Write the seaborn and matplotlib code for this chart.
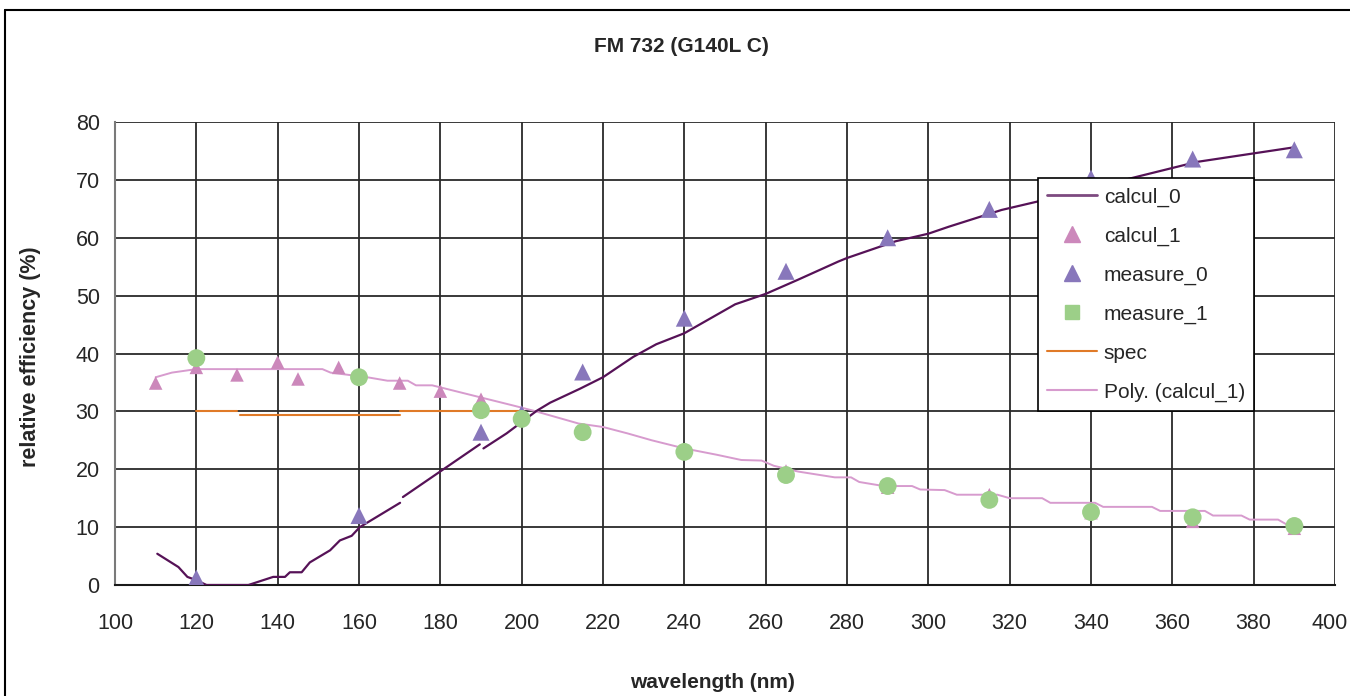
import numpy as np
import pandas as pd
import matplotlib
matplotlib.use("Agg")
import matplotlib.pyplot as plt
import matplotlib.transforms as mtransforms
import seaborn as sns
from matplotlib.lines import Line2D

# ---------------- data ----------------
title = "FM 732 (G140L C)"
x_label = "wavelength (nm)"
y_label = "relative efficiency (%)"
x_ticks = list(range(100, 401, 20))
y_ticks = list(range(0, 81, 10))

# calcul_0 : computed curve (drawn in three pieces as in the original)
calcul0_seg = [0] * 16 + [1] * 2 + [2] * 22
calcul0_x = [110.4, 115.6, 117.8, 120.1, 122.5, 132.8, 138.9, 141.8, 143.0, 145.9, 147.9, 152.9,
             155.3, 158.2, 160.2, 170.1,
             170.8, 189.7,
             190.6, 196.3, 203.7, 207.0, 214.3, 220.0, 227.4, 233.1, 240.0, 252.5, 260.0, 267.8,
             277.9, 280.0, 292.0, 300.0, 305.0, 318.0, 326.5, 352.8, 366.0, 389.7]
calcul0_y = [5.4, 3.1, 1.4, 0.8, 0.0, 0.0, 1.4, 1.4, 2.2, 2.2, 3.9, 6.0,
             7.7, 8.5, 10.0, 14.2,
             15.2, 24.3,
             23.6, 26.2, 30.1, 31.5, 33.9, 35.9, 39.4, 41.6, 43.5, 48.5, 50.3, 52.7,
             55.9, 56.5, 59.4, 60.7, 61.9, 64.8, 66.2, 70.8, 73.1, 75.6]

# calcul_1 : computed points
calcul1_x = [110, 120, 130, 140, 145, 155, 160, 170, 180, 190, 200, 215, 240, 265, 290, 315, 340, 365, 390]
calcul1_y = [34.9, 37.6, 36.3, 38.5, 35.6, 37.6, 36.1, 34.9, 33.5, 32.1, 29.8, 26.6, 23.1, 19.7, 16.9,
             15.6, 12.5, 11.0, 9.8]

# measure_0 / measure_1
measure_x = [120, 160, 190, 200, 215, 240, 265, 290, 315, 340, 365, 390]
measure0_y = [1.2, 12.0, 26.4, 29.6, 36.8, 46.1, 54.2, 60.0, 64.9, 70.3, 73.6, 75.2]
measure1_y = [39.2, 35.9, 30.2, 28.7, 26.4, 23.0, 19.0, 17.1, 14.7, 12.6, 11.7, 10.2]

# spec (three pieces)
spec_seg = [0, 0, 1, 1, 2, 2]
spec_x = [120, 130, 130.7, 170.2, 170.2, 199.5]
spec_y = [30.0, 30.0, 29.3, 29.3, 30.0, 30.0]

# Poly. (calcul_1) trendline as rendered
poly_x = [110, 114, 120, 151, 153, 162, 167, 172, 174, 178, 182, 186, 194, 198, 203, 206, 214, 220,
          226, 232, 240, 248, 254, 259, 262, 268, 277, 281, 283, 289, 296, 298, 304, 307, 317, 320,
          328, 330, 341, 343, 355, 357, 368, 370, 377, 379, 386, 388, 392]
poly_y = [35.9, 36.7, 37.3, 37.3, 36.7, 35.9, 35.3, 35.3, 34.5, 34.5, 33.8, 33.1, 31.7, 31.0, 30.1,
          29.5, 27.9, 27.3, 26.2, 25.0, 23.6, 22.5, 21.6, 21.5, 20.6, 19.6, 18.6, 18.6, 17.8, 17.1,
          17.1, 16.5, 16.4, 15.6, 15.6, 15.0, 15.0, 14.2, 14.2, 13.5, 13.5, 12.8, 12.8, 12.0, 12.0,
          11.3, 11.3, 10.5, 10.3]

series_labels = ["calcul_0", "calcul_1", "measure_0", "measure_1", "spec", "Poly. (calcul_1)"]

# ---------------- style ----------------
sns.set_style("white")
plt.rcParams["font.family"] = ["Liberation Sans", "DejaVu Sans"]

c_calc0 = "#561257"
c_calc1 = "#CC88BB"
c_meas0 = "#8877BB"
c_meas1 = "#9CCF88"
c_spec = "#E07A28"
c_poly = "#D79BCE"

fig = plt.figure(figsize=(13.5, 6.96), dpi=100)
ax = fig.add_axes([115 / 1350, 1 - 585 / 696, 1220 / 1350, 463 / 696])

df0 = pd.DataFrame({"x": calcul0_x, "y": calcul0_y, "seg": calcul0_seg})
dfs = pd.DataFrame({"x": spec_x, "y": spec_y, "seg": spec_seg})
dfp = pd.DataFrame({"x": poly_x, "y": poly_y})

sns.lineplot(data=dfp, x="x", y="y", color=c_poly, lw=1.4, sort=False, estimator=None, ax=ax,
             legend=False, zorder=3)
sns.lineplot(data=dfs, x="x", y="y", units="seg", color=c_spec, lw=1.5, sort=False, estimator=None,
             ax=ax, legend=False, zorder=3)
sns.lineplot(data=df0, x="x", y="y", units="seg", color=c_calc0, lw=1.6, sort=False, estimator=None,
             ax=ax, legend=False, zorder=4)

sns.scatterplot(x=calcul1_x, y=calcul1_y, marker="^", s=95, color=c_calc1, edgecolor="none",
                ax=ax, legend=False, zorder=5)
sns.scatterplot(x=measure_x, y=measure0_y, marker="^", s=150, color=c_meas0, edgecolor="none",
                ax=ax, legend=False, zorder=6)
sns.scatterplot(x=measure_x, y=measure1_y, marker="o", s=165, color=c_meas1, edgecolor="none",
                ax=ax, legend=False, zorder=7)

ax.set_xlim(100, 400)
ax.set_ylim(0, 80)
ax.set_xticks(x_ticks)
ax.set_yticks(y_ticks)
ax.set_xticklabels([str(t) for t in x_ticks], fontsize=15.5)
ax.set_yticklabels([str(t) for t in y_ticks], fontsize=15.5)
ax.set_xlabel("")
ax.set_ylabel("")
ax.grid(True, color="#2a2a2a", lw=1.3)
ax.set_axisbelow(True)
for side in ["top", "right"]:
    ax.spines[side].set_visible(False)
ax.spines["left"].set_color("#7a7a7a")
ax.spines["left"].set_linewidth(1.5)
ax.spines["bottom"].set_color("#1a1a1a")
ax.spines["bottom"].set_linewidth(1.5)
ax.tick_params(axis="both", direction="out", length=6, width=1.2, color="#333333")
ax.tick_params(axis="x", pad=14)
ax.tick_params(axis="y", pad=5)

# keep the last x tick label ("400") inside the image edge
last_lbl = ax.get_xticklabels()[-1]
last_lbl.set_transform(last_lbl.get_transform() +
                       mtransforms.ScaledTranslation(-5 / 100, 0, fig.dpi_scale_trans))

fig.text(712 / 1350, 1 - 683 / 696, x_label, fontsize=15, fontweight="bold", ha="center",
         va="center")
fig.text(31 / 1350, 1 - 357 / 696, y_label, fontsize=15.5, fontweight="bold", ha="center",
         va="center", rotation=90)
fig.text(681 / 1350, 1 - 47 / 696, title, fontsize=15, fontweight="bold", ha="center", va="center")

handles = [
    Line2D([], [], color="#7d4a80", lw=2),
    Line2D([], [], color=c_calc1, marker="^", ls="none", markersize=11),
    Line2D([], [], color=c_meas0, marker="^", ls="none", markersize=11),
    Line2D([], [], color=c_meas1, marker="s", ls="none", markersize=10),
    Line2D([], [], color=c_spec, lw=1.5),
    Line2D([], [], color=c_poly, lw=1.5),
]
leg = ax.legend(handles, series_labels, loc="upper left", bbox_to_anchor=(0.7566, 0.879),
                fontsize=15, frameon=True, fancybox=False, framealpha=1, edgecolor="black",
                labelspacing=0.95, handlelength=2.4, handletextpad=0.3, borderpad=0.45,
                borderaxespad=0)
leg.get_frame().set_linewidth(1.2)
leg.set_zorder(10)

# outer chart frame
fig.add_artist(Line2D([5 / 1350, 5 / 1350], [0, 1 - 10 / 696], transform=fig.transFigure,
                      color="black", lw=1.5))
fig.add_artist(Line2D([5 / 1350, 1], [1 - 10 / 696, 1 - 10 / 696], transform=fig.transFigure,
                      color="black", lw=1.5))

fig.savefig("out.png", dpi=100)
